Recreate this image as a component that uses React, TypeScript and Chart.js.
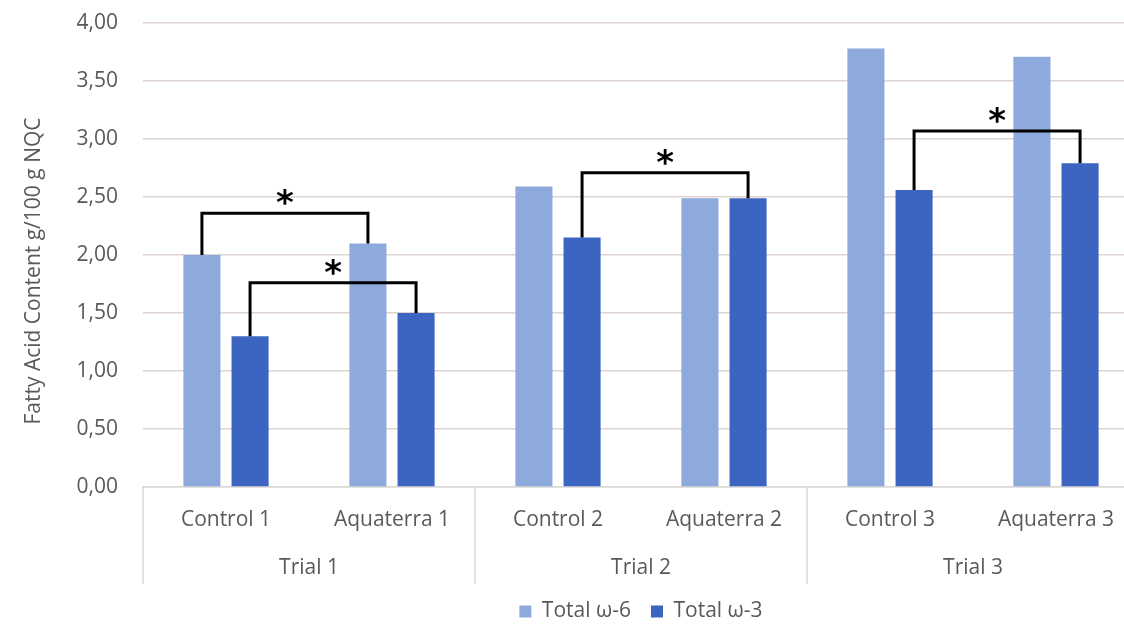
import React, { useEffect, useRef } from "react";
import { Chart, registerables } from "chart.js";

Chart.register(...registerables);

const categories = ["Control 1", "Aquaterra 1", "Control 2", "Aquaterra 2", "Control 3", "Aquaterra 3"];
const trialLabels = ["Trial 1", "Trial 2", "Trial 3"];
const seriesNames = ["Total ω-6", "Total ω-3"];
const omega6 = [2.0, 2.1, 2.59, 2.49, 3.78, 3.71];
const omega3 = [1.3, 1.5, 2.15, 2.49, 2.56, 2.79];
const yAxisTitle = "Fatty Acid Content g/100 g NQC";
const yMin = 0;
const yMax = 4;
const yStep = 0.5;
// significance brackets: from category, to category, series index, bracket level (data units)
const bracketFrom = [0, 0, 2, 4];
const bracketTo = [1, 1, 3, 5];
const bracketSeries = [0, 1, 1, 1];
const bracketLevel = [2.36, 1.76, 2.71, 3.07];
const bracketMark = "*";

const COLORS = ["#8eaadc", "#3c64c1"];
const TEXT = "#595959";
const FONT = "'Open Sans', sans-serif";
const FS = 21;

const extrasPlugin = {
  id: "extras",
  afterDatasetsDraw(chart: any) {
    const { ctx, chartArea, scales } = chart;
    const x = scales.x;
    const y = scales.y;
    ctx.save();
    const n = categories.length;
    const half = (x.getPixelForValue(1) - x.getPixelForValue(0)) / 2;
    ctx.strokeStyle = "#d9d9d9";
    ctx.lineWidth = 1.5;
    for (let k = 0; k <= trialLabels.length; k++) {
      const idx = k * 2;
      const px = idx < n ? x.getPixelForValue(idx) - half : x.getPixelForValue(n - 1) + half;
      ctx.beginPath();
      ctx.moveTo(px, chartArea.bottom);
      ctx.lineTo(px, chartArea.bottom + 97);
      ctx.stroke();
    }
    ctx.fillStyle = TEXT;
    ctx.font = `${FS}px ${FONT}`;
    ctx.textAlign = "center";
    ctx.textBaseline = "middle";
    trialLabels.forEach((t, k) => {
      const cx = (x.getPixelForValue(k * 2) + x.getPixelForValue(k * 2 + 1)) / 2;
      ctx.fillText(t, cx, chartArea.bottom + 81);
    });
    ctx.save();
    ctx.translate(34, 271);
    ctx.rotate(-Math.PI / 2);
    ctx.fillText(yAxisTitle, 0, 0);
    ctx.restore();
    ctx.strokeStyle = "#000";
    ctx.lineWidth = 3;
    ctx.lineJoin = "miter";
    bracketFrom.forEach((f, i) => {
      const meta = chart.getDatasetMeta(bracketSeries[i]);
      const a = meta.data[f];
      const b = meta.data[bracketTo[i]];
      const ly = y.getPixelForValue(bracketLevel[i]);
      ctx.beginPath();
      ctx.moveTo(a.x, a.y);
      ctx.lineTo(a.x, ly);
      ctx.lineTo(b.x, ly);
      ctx.lineTo(b.x, b.y);
      ctx.stroke();
      ctx.font = `bold 34px 'DejaVu Sans', sans-serif`;
      ctx.fillStyle = "#000";
      ctx.textBaseline = "alphabetic";
      const m = ctx.measureText(bracketMark);
      const cy = ly - 16;
      const base = cy + (m.actualBoundingBoxAscent - m.actualBoundingBoxDescent) / 2;
      ctx.fillText(bracketMark, (a.x + b.x) / 2, base);
    });
    ctx.restore();
  },
};

export default function App() {
  const ref = useRef<HTMLCanvasElement>(null);
  useEffect(() => {
    if (!ref.current) return;
    Chart.defaults.font.family = FONT;
    Chart.defaults.color = TEXT;
    const chart = new Chart(ref.current, {
      type: "bar",
      data: {
        labels: categories,
        datasets: [
          { label: seriesNames[0], data: omega6, backgroundColor: COLORS[0], categoryPercentage: 0.58, barPercentage: 0.77 },
          { label: seriesNames[1], data: omega3, backgroundColor: COLORS[1], categoryPercentage: 0.58, barPercentage: 0.77 },
        ],
      },
      options: {
        animation: false,
        responsive: true,
        maintainAspectRatio: false,
        layout: { padding: { top: 23, left: 0, right: 0, bottom: 8 } },
        plugins: {
          legend: {
            position: "bottom",
            fullSize: false,
            labels: { boxWidth: 12, boxHeight: 12, padding: 20, color: TEXT, font: { size: FS, family: FONT } },
          },
          tooltip: { enabled: false },
        },
        scales: {
          x: {
            grid: { display: false, drawTicks: false },
            border: { display: true, color: "#d9d9d9", width: 1.5 },
            ticks: { color: TEXT, font: { size: FS, family: FONT }, padding: 20, maxRotation: 0 },
            afterFit: (s: any) => { s.height = 94; },
          },
          y: {
            min: yMin,
            max: yMax,
            grid: { color: "#ddd4cf", lineWidth: 1.5, drawTicks: true, tickLength: 20, tickColor: "rgba(0,0,0,0)" },
            border: { display: false },
            ticks: {
              stepSize: yStep,
              color: TEXT,
              padding: 5,
              font: { size: FS, family: FONT },
              callback: (v: any) => Number(v).toFixed(2).replace(".", ","),
            },
            afterFit: (s: any) => { s.width = 143; },
          },
        },
      },
      plugins: [extrasPlugin],
    });
    return () => chart.destroy();
  }, []);
  return (
    <div style={{ position: "fixed", left: 0, top: 0, width: 1124, height: 629, overflow: "hidden", background: "#fff" }}>
      <div style={{ width: 1139, height: 640, position: "relative" }}>
        <canvas ref={ref} />
      </div>
    </div>
  );
}
